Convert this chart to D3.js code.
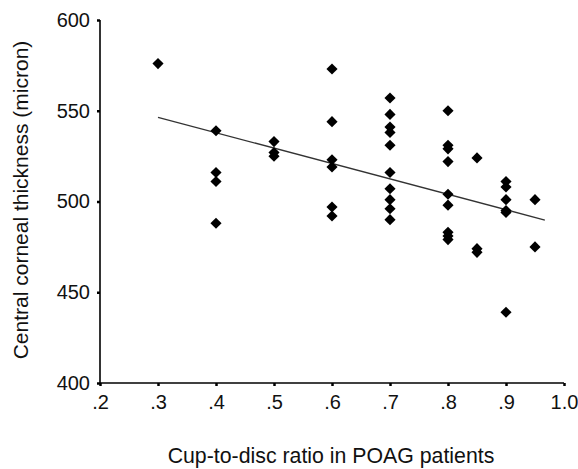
<!DOCTYPE html>
<html>
<head>
<meta charset="utf-8">
<script src="https://cdn.jsdelivr.net/npm/d3@7"></script>
<style>
  body { margin: 0; background: #fff; }
  svg { font-family: "Liberation Sans", Arial, sans-serif; }
</style>
</head>
<body>
<div id="chart"></div>
<script>
// cup-to-disc ratio and central corneal thickness
const cdr = [0.3,
    0.4, 0.4, 0.4, 0.4,
    0.5, 0.5, 0.5,
    0.6, 0.6, 0.6, 0.6, 0.6, 0.6,
    0.7, 0.7, 0.7, 0.7, 0.7, 0.7, 0.7, 0.7, 0.7, 0.7,
    0.8, 0.8, 0.8, 0.8, 0.8, 0.8, 0.8, 0.8, 0.8,
    0.85, 0.85, 0.85,
    0.9, 0.9, 0.9, 0.9, 0.9, 0.9,
    0.95, 0.95];
const cct = [576,
    539, 516, 511, 488,
    533, 527, 525,
    573, 544, 523, 519, 497, 492,
    557, 548, 541, 538, 531, 516, 507, 501, 496, 490,
    550, 531, 529, 522, 504, 498, 483, 481, 479,
    524, 474, 472,
    511, 508, 501, 495, 494, 439,
    501, 475];

// fitted line end points
const fitX = [0.3, 0.967];
const fitY = [546.4, 489.8];

const xTicks = [0.2, 0.3, 0.4, 0.5, 0.6, 0.7, 0.8, 0.9, 1.0];
const yTicks = [400, 450, 500, 550, 600];

const width = 578,
    height = 469,
    margin = ({ top: 20, right: 14, bottom: 86, left: 100 });

const svg = d3.select("#chart")
    .append("svg")
    .attr("width", width)
    .attr("height", height);

const x = d3.scaleLinear()
    .domain([0.2, 1.0])
    .range([margin.left, width - margin.right]);

const y = d3.scaleLinear()
    .domain([400, 600])
    .range([height - margin.bottom, margin.top]);

const fmt = d => d === 1 ? "1.0" : d3.format(".1f")(d).replace(/^0/, "");

const xAxis = g => g
    .attr("transform", `translate(0,${y(400)})`)
    .call(d3.axisBottom(x).tickValues(xTicks).tickFormat(fmt).tickSize(3).tickPadding(9))
    .call(g => g.select(".domain").attr("stroke-width", 1.6).attr("d", `M${x(0.2)},0H${x(1.0)}`));

const yAxis = g => g
    .attr("transform", `translate(${x(0.2)},0)`)
    .call(d3.axisLeft(y).tickValues(yTicks).tickSize(3).tickPadding(7))
    .call(g => g.select(".domain").attr("stroke-width", 1.6).attr("d", `M0,${y(400)}V${y(600)}`));

svg.append("g").call(xAxis);
svg.append("g").call(yAxis);

svg.selectAll(".tick line").attr("stroke-width", 2.5);
svg.selectAll(".tick text")
    .attr("font-size", 20)
    .attr("fill", "#111");

// regression line
svg.append("line")
    .attr("x1", x(fitX[0]))
    .attr("y1", y(fitY[0]))
    .attr("x2", x(fitX[1]))
    .attr("y2", y(fitY[1]))
    .attr("stroke", "#333")
    .attr("stroke-width", 1.3);

const diamond = d3.symbol(d3.symbolSquare, 62);

svg.append("g")
    .selectAll("path")
    .data(cdr.map((d, i) => [d, cct[i]]))
    .join("path")
    .attr("d", diamond)
    .attr("transform", d => `translate(${x(d[0])},${y(d[1])}) rotate(45)`)
    .attr("fill", "#000");

svg.append("text")
    .attr("x", 331)
    .attr("y", 463)
    .attr("text-anchor", "middle")
    .attr("font-size", 21.3)
    .attr("fill", "#111")
    .text("Cup-to-disc ratio in POAG patients");

svg.append("text")
    .attr("transform", `translate(28,200) rotate(-90)`)
    .attr("text-anchor", "middle")
    .attr("font-size", 21)
    .attr("fill", "#111")
    .text("Central corneal thickness (micron)");
</script>
</body>
</html>
